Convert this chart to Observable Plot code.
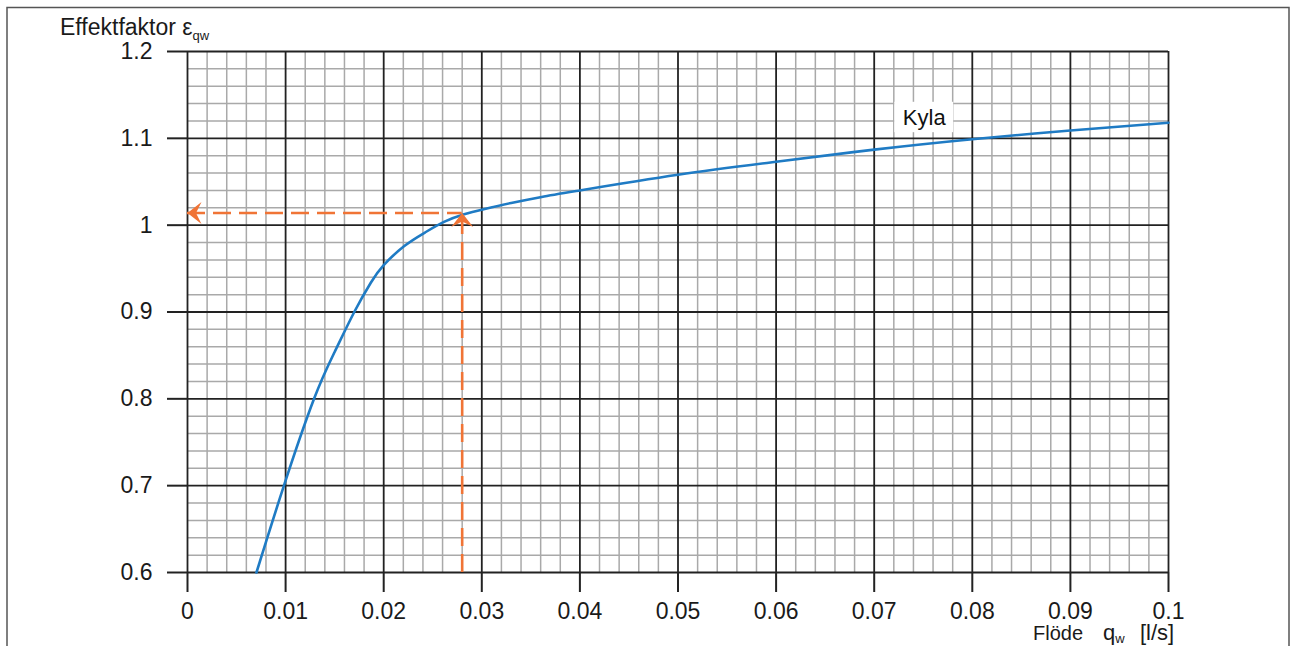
<!DOCTYPE html>
<html>
<head>
<meta charset="utf-8">
<script src="https://cdn.jsdelivr.net/npm/d3@7"></script>
<script src="https://cdn.jsdelivr.net/npm/@observablehq/plot@0.6"></script>
<style>
  html, body { margin: 0; padding: 0; background: #fff; }
  #chart { width: 1292px; height: 646px; overflow: hidden; }
</style>
</head>
<body>
<div id="chart"></div>
<script>
// ---- data ----
const flow = [0.00703, 0.00983, 0.0129, 0.0150, 0.0170, 0.0187, 0.0200, 0.0221, 0.0242, 0.0262, 0.0282, 0.0302, 0.0330, 0.0361, 0.04, 0.05, 0.06, 0.07, 0.08, 0.09, 0.1];
const factor = [0.6, 0.7, 0.8, 0.854, 0.9, 0.934, 0.954, 0.976, 0.9915, 1.004, 1.0126, 1.0184, 1.0255, 1.0325, 1.04, 1.058, 1.073, 1.087, 1.099, 1.109, 1.118];
const xTicks = [0, 0.01, 0.02, 0.03, 0.04, 0.05, 0.06, 0.07, 0.08, 0.09, 0.1];
const xTickLabels = ["0", "0.01", "0.02", "0.03", "0.04", "0.05", "0.06", "0.07", "0.08", "0.09", "0.1"];
const yTicks = [0.6, 0.7, 0.8, 0.9, 1.0, 1.1, 1.2];
const yTickLabels = ["0.6", "0.7", "0.8", "0.9", "1", "1.1", "1.2"];
const readFlow = 0.028;     // example reading
const readFactor = 1.014;
const seriesName = "Kyla";
const labelPos = {x: 0.0751, y: 1.124};

// minor grid values
const xMinor = d3.range(0, 51).map(i => i * 0.002).filter((d, i) => i % 5 !== 0);
const yMinor = d3.range(0, 31).map(i => 0.6 + i * 0.02).filter((d, i) => i % 5 !== 0);

const curveData = flow.map((x, i) => ({x, y: factor[i]}));

const BLUE = "#1f7bc4";
const ORANGE = "#f07436";
const FONT = "'Liberation Sans', Arial, Helvetica, sans-serif";

const arrowHead = {
  draw(ctx) {
    ctx.moveTo(0, 0);
    ctx.lineTo(11, 14);
    ctx.lineTo(0, 8.5);
    ctx.lineTo(-11, 14);
    ctx.closePath();
  }
};

const chart = Plot.plot({
  width: 1292,
  height: 646,
  marginLeft: 187,
  marginRight: 124,
  marginTop: 51,
  marginBottom: 74,
  style: {fontFamily: FONT, fontSize: "23px", color: "#1a1a1a", background: "#fff"},
  x: {domain: [0, 0.1], label: null},
  y: {domain: [0.6, 1.2], label: null},
  marks: [
    Plot.ruleX(xMinor, {stroke: "#a9a9a9", strokeWidth: 1.5}),
    Plot.ruleY(yMinor, {stroke: "#a9a9a9", strokeWidth: 1.5}),
    Plot.ruleX(xTicks, {stroke: "#222", strokeWidth: 1.8}),
    Plot.ruleY(yTicks, {stroke: "#222", strokeWidth: 1.8}),
    Plot.line(curveData, {x: "x", y: "y", stroke: BLUE, strokeWidth: 2.6, curve: "natural"}),
    Plot.ruleY([readFactor], {x1: 0, x2: readFlow, stroke: ORANGE, strokeWidth: 2.6, strokeDasharray: "18,8"}),
    Plot.ruleX([readFlow], {y1: 0.6, y2: readFactor, stroke: ORANGE, strokeWidth: 2.6, strokeDasharray: "18,8"}),
    Plot.dot([{x: readFlow, y: readFactor}], {x: "x", y: "y", symbol: arrowHead, fill: ORANGE, stroke: "none", r: 5}),
    Plot.dot([{x: 0, y: readFactor}], {x: "x", y: "y", symbol: arrowHead, fill: ORANGE, stroke: "none", r: 5, rotate: -90}),
    Plot.rect([labelPos], {x1: d => d.x - 0.003, x2: d => d.x + 0.003, y1: d => d.y - 0.0175, y2: d => d.y + 0.0175, fill: "#fff"}),
    Plot.text([labelPos], {x: "x", y: "y", text: () => seriesName, fontSize: 22, fill: "#111"}),
    Plot.axisX(xTicks, {tickSize: 20, tickPadding: 10, fontSize: 23, stroke: "#222", strokeWidth: 2,
      tickFormat: (d) => xTickLabels[xTicks.indexOf(d)]}),
    Plot.axisY(yTicks, {tickSize: 20, tickPadding: 15, fontSize: 23, stroke: "#222", strokeWidth: 2,
      tickFormat: (d) => yTickLabels[yTicks.indexOf(d)]})
  ]
});

document.getElementById("chart").appendChild(chart);

// outer frame, title and x-axis label
const svg = d3.select(chart);
svg.append("path")
  .attr("d", "M7,660V7.5H1289V660")
  .attr("fill", "none").attr("stroke", "#555").attr("stroke-width", 1.5);

const title = svg.append("text")
  .attr("x", 60).attr("y", 35)
  .attr("text-anchor", "start")
  .attr("font-family", FONT).attr("font-size", 23).attr("fill", "#1a1a1a");
title.append("tspan").text("Effektfaktor ε");
title.append("tspan").attr("font-size", 13).attr("dy", 5).text("qw");

const xl = svg.append("text")
  .attr("y", 640)
  .attr("text-anchor", "start")
  .attr("font-family", FONT).attr("fill", "#1a1a1a");
xl.append("tspan").attr("x", 1033).attr("font-size", 20).text("Flöde");
xl.append("tspan").attr("x", 1103).attr("font-size", 22).text("q");
xl.append("tspan").attr("font-size", 13).attr("dy", 3).text("w");
xl.append("tspan").attr("x", 1140).attr("dy", -3).attr("font-size", 22).text("[l/s]");
</script>
</body>
</html>
